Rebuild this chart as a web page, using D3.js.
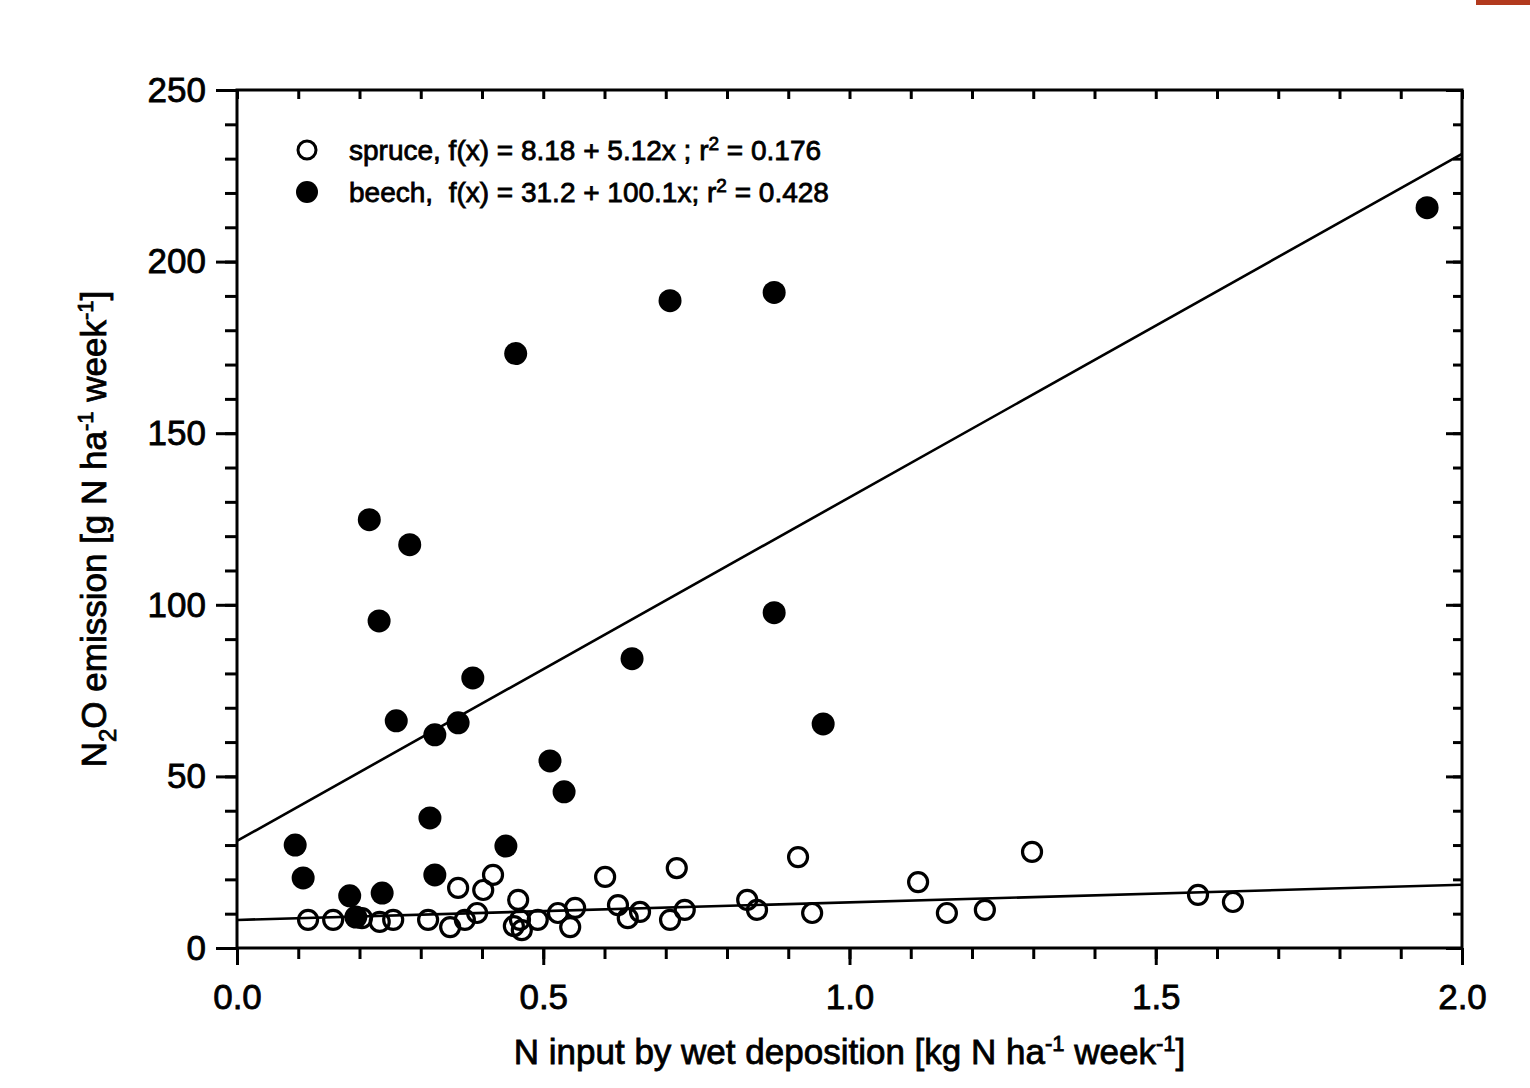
<!DOCTYPE html>
<html>
<head>
<meta charset="utf-8">
<script src="https://cdn.jsdelivr.net/npm/d3@7/dist/d3.min.js"></script>
<style>
  body { margin: 0; background: #fff; }
  text { font-family: "Liberation Sans", Arial, sans-serif; fill: #000; stroke: #000; stroke-width: 0.8px; }
</style>
</head>
<body>
<script>
// spruce (open circles)
const spruceX = [0.116, 0.157, 0.204, 0.233, 0.255, 0.312, 0.348, 0.372, 0.392, 0.361, 0.402, 0.418,
                 0.459, 0.452, 0.462, 0.465, 0.491, 0.524, 0.544, 0.552, 0.601, 0.622, 0.638, 0.658,
                 0.707, 0.718, 0.731, 0.833, 0.849, 0.916, 0.939, 1.112, 1.159, 1.221, 1.298, 1.569, 1.626];
const spruceY = [8.2, 8.2, 8.7, 7.6, 8.2, 8.2, 6.1, 8.2, 10.2, 17.5, 16.9, 21.3,
                 14.0, 6.4, 8.2, 5.2, 8.2, 10.2, 6.1, 11.7, 20.7, 12.5, 8.7, 10.5,
                 8.2, 23.3, 11.1, 14.0, 11.1, 26.5, 10.2, 19.2, 10.2, 11.1, 28.0, 15.5, 13.4];

// beech (filled circles)
const beechX = [0.095, 0.108, 0.184, 0.194, 0.237, 0.216, 0.232, 0.282, 0.260, 0.323, 0.315, 0.323,
                0.361, 0.385, 0.439, 0.455, 0.511, 0.534, 0.645, 0.707, 0.877, 0.877, 0.957, 1.943];
const beechY = [30.0, 20.4, 15.2, 9.0, 16.0, 124.8, 95.3, 117.5, 66.2, 62.1, 37.9, 21.3,
                65.6, 78.7, 29.7, 173.2, 54.5, 45.5, 84.3, 188.6, 191.0, 97.7, 65.3, 215.7];

// regression lines: intercept, slope
const spruceFit = [8.18, 5.12];
const beechFit = [31.2, 100.1];

const xTicks = [0, 0.5, 1.0, 1.5, 2.0];
const yTicks = [0, 50, 100, 150, 200, 250];
const xMinor = d3.range(0, 21).map(d => d / 10);
const yMinor = d3.range(0, 26).map(d => d * 10);

const width = 1530, height = 1088;
const margin = { left: 237, right: 68, top: 90, bottom: 140 };

const svg = d3.select("body").append("svg")
    .attr("width", width)
    .attr("height", height);

// Scales
const x = d3.scaleLinear().domain([0, 2]).range([margin.left, width - margin.right]);
const y = d3.scaleLinear().domain([0, 250]).range([height - margin.bottom, margin.top]);

const x0 = x(0), x1 = x(2), y0 = y(0), y1 = y(250);

// Axes (ticks only, frame drawn below)
function styleAxis(g) {
    g.select(".domain").remove();
    g.selectAll("line").attr("stroke", "#000").attr("stroke-width", 3);
    g.selectAll("text").attr("font-size", 35).attr("font-family", null);
}

// bottom: outward ticks
svg.append("g").attr("transform", `translate(0,${y0})`)
    .call(d3.axisBottom(x).tickValues(xMinor).tickSize(11).tickFormat(""))
    .call(styleAxis);
svg.append("g").attr("transform", `translate(0,${y0})`)
    .call(d3.axisBottom(x).tickValues(xTicks).tickSize(17).tickPadding(19).tickFormat(d3.format(".1f")))
    .call(styleAxis);

// top: inward ticks
svg.append("g").attr("transform", `translate(0,${y1})`)
    .call(d3.axisBottom(x).tickValues(xMinor).tickSize(9).tickFormat(""))
    .call(styleAxis);

// left: outward ticks
svg.append("g").attr("transform", `translate(${x0},0)`)
    .call(d3.axisLeft(y).tickValues(yMinor).tickSize(12).tickFormat(""))
    .call(styleAxis);
svg.append("g").attr("transform", `translate(${x0},0)`)
    .call(d3.axisLeft(y).tickValues(yTicks).tickSize(21).tickPadding(10).tickFormat(d3.format("d")))
    .call(styleAxis);

// right: inward ticks
svg.append("g").attr("transform", `translate(${x1},0)`)
    .call(d3.axisLeft(y).tickValues(yMinor).tickSize(9).tickFormat(""))
    .call(styleAxis);
svg.append("g").attr("transform", `translate(${x1},0)`)
    .call(d3.axisLeft(y).tickValues(yTicks).tickSize(16).tickFormat(""))
    .call(styleAxis);

// Frame
svg.append("rect")
    .attr("x", x0).attr("y", y1)
    .attr("width", x1 - x0).attr("height", y0 - y1)
    .attr("fill", "none").attr("stroke", "#000").attr("stroke-width", 3);

// Regression lines
[spruceFit, beechFit].forEach(f => {
    svg.append("line")
        .attr("x1", x(0)).attr("y1", y(f[0]))
        .attr("x2", x(2)).attr("y2", y(f[0] + f[1] * 2))
        .attr("stroke", "#000").attr("stroke-width", 2.6);
});

// Points
const spruce = spruceX.map((d, i) => [d, spruceY[i]]);
const beech = beechX.map((d, i) => [d, beechY[i]]);

svg.append("g").selectAll("circle")
    .data(beech).enter().append("circle")
    .attr("cx", d => x(d[0])).attr("cy", d => y(d[1]))
    .attr("r", 11.5).attr("fill", "#000");

svg.append("g").selectAll("circle")
    .data(spruce).enter().append("circle")
    .attr("cx", d => x(d[0])).attr("cy", d => y(d[1]))
    .attr("r", 9.5).attr("fill", "none").attr("stroke", "#000").attr("stroke-width", 3.2);

// Legend
const legend = svg.append("g");
legend.append("circle").attr("cx", 307).attr("cy", 150).attr("r", 9)
    .attr("fill", "none").attr("stroke", "#000").attr("stroke-width", 3);
legend.append("circle").attr("cx", 307).attr("cy", 192).attr("r", 11).attr("fill", "#000");

const l1 = legend.append("text").attr("x", 349).attr("y", 160).attr("font-size", 28);
l1.append("tspan").text("spruce, f(x) = 8.18 + 5.12x ; r");
l1.append("tspan").attr("font-size", 19).attr("dy", -10).text("2");
l1.append("tspan").attr("dy", 10).text(" = 0.176");

const l2 = legend.append("text").attr("x", 349).attr("y", 202).attr("font-size", 28);
l2.append("tspan").text("beech,\u00a0 f(x) = 31.2 + 100.1x; r");
l2.append("tspan").attr("font-size", 19).attr("dy", -10).text("2");
l2.append("tspan").attr("dy", 10).text(" = 0.428");

// X axis title
const xt = svg.append("text")
    .attr("x", (x0 + x1) / 2).attr("y", 1064)
    .attr("text-anchor", "middle").attr("font-size", 35);
xt.append("tspan").text("N input by wet deposition [kg N ha");
xt.append("tspan").attr("font-size", 22).attr("dy", -13).text("-1");
xt.append("tspan").attr("dy", 13).text(" week");
xt.append("tspan").attr("font-size", 22).attr("dy", -13).text("-1");
xt.append("tspan").attr("dy", 13).text("]");

// Y axis title
const yt = svg.append("text")
    .attr("transform", `translate(106,${(y0 + y1) / 2 + 10}) rotate(-90)`)
    .attr("text-anchor", "middle").attr("font-size", 35);
yt.append("tspan").text("N");
yt.append("tspan").attr("font-size", 24).attr("dy", 10).text("2");
yt.append("tspan").attr("dy", -10).text("O emission [g N ha");
yt.append("tspan").attr("font-size", 22).attr("dy", -13).text("-1");
yt.append("tspan").attr("dy", 13).text(" week");
yt.append("tspan").attr("font-size", 22).attr("dy", -13).text("-1");
yt.append("tspan").attr("dy", 13).text("]");

// corner mark from the scan
svg.append("rect").attr("x", 1476).attr("y", 0).attr("width", 54).attr("height", 5).attr("fill", "#b23a1e");
</script>
</body>
</html>
